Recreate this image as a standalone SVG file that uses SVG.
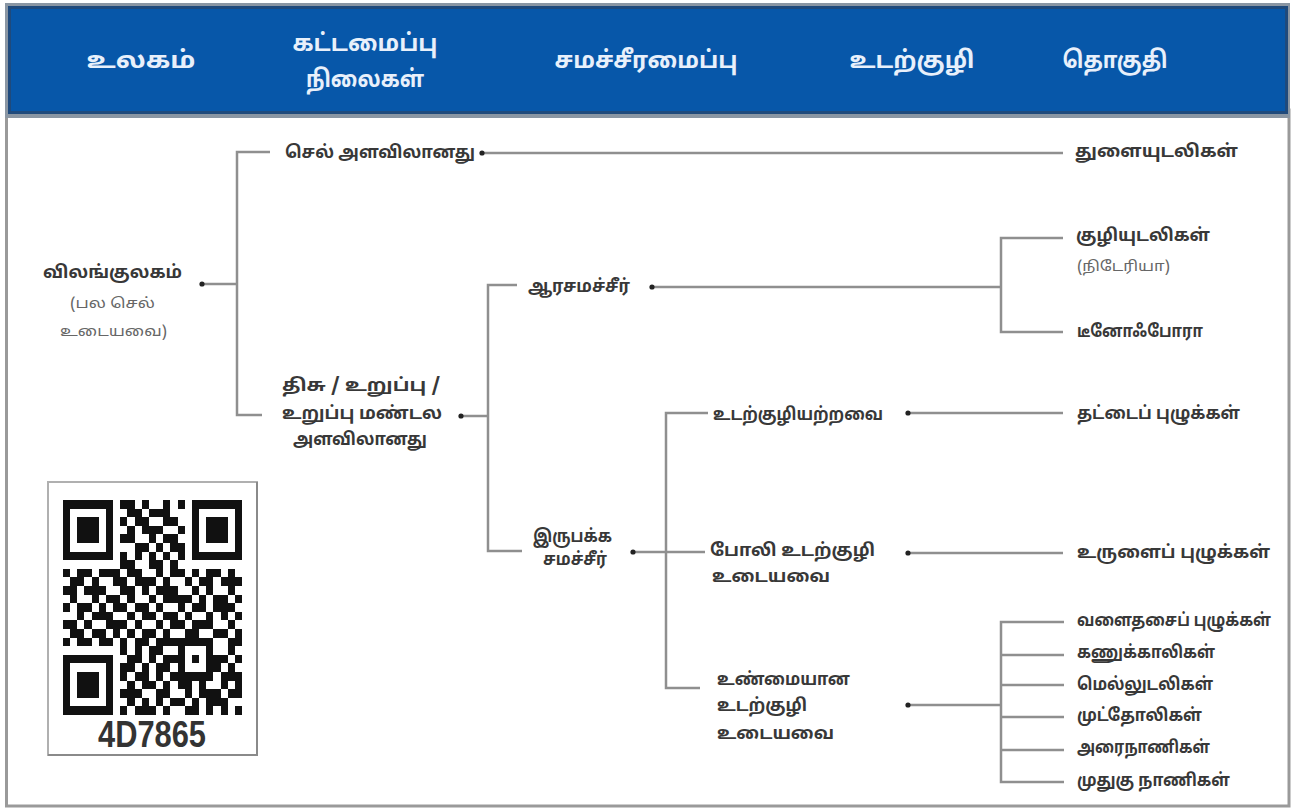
<svg xmlns="http://www.w3.org/2000/svg" width="1305" height="809" viewBox="0 0 1305 809">
<style>
.hd{font-family:"Noto Sans Tamil","Lohit Tamil","Noto Sans","DejaVu Sans",sans-serif;font-weight:bold;font-size:24px;fill:#e8f0fb;text-anchor:middle;dominant-baseline:central}
.t{font-family:"Noto Sans Tamil","Lohit Tamil","Noto Sans","DejaVu Sans",sans-serif;font-weight:bold;font-size:17.5px;fill:#383838;dominant-baseline:central}
.s{font-family:"Noto Sans Tamil","Lohit Tamil","Noto Sans","DejaVu Sans",sans-serif;font-size:14px;fill:#666;dominant-baseline:central}
.ln{fill:none;stroke:#8f8f8f;stroke-width:2.5}
.ar{marker-start:url(#dot)}
</style>
<defs>
<marker id="dot" viewBox="0 0 6 6" refX="3" refY="3" markerWidth="6" markerHeight="6" markerUnits="userSpaceOnUse"><circle cx="3" cy="3" r="2.6" fill="#222"/></marker>
<g id="finder"><rect x="0" y="0" width="7" height="7" fill="#111"/><rect x="1" y="1" width="5" height="5" fill="#fff"/><rect x="2" y="2" width="3" height="3" fill="#111"/></g>
</defs>
<rect x="0" y="0" width="1305" height="809" fill="#fff"/>
<g id="frame">
<rect x="6.5" y="110" width="1282.5" height="696" fill="none" stroke="#9a9a9a" stroke-width="3"/>
<rect x="5" y="3" width="1285" height="115" fill="#8a96a3"/>
<rect x="8" y="6" width="1280" height="108" fill="#1f4a7c"/>
<rect x="11" y="9" width="1274" height="102" fill="#0757a9"/>
</g>
<g id="header">
<text class="hd" x="141" y="62" textLength="109" lengthAdjust="spacingAndGlyphs">உலகம்</text>
<text class="hd" x="365" y="45" textLength="145" lengthAdjust="spacingAndGlyphs">கட்டமைப்பு</text>
<text class="hd" x="365" y="81" textLength="118" lengthAdjust="spacingAndGlyphs">நிலைகள்</text>
<text class="hd" x="646" y="62" textLength="183" lengthAdjust="spacingAndGlyphs">சமச்சீரமைப்பு</text>
<text class="hd" x="912" y="62" textLength="125" lengthAdjust="spacingAndGlyphs">உடற்குழி</text>
<text class="hd" x="1115" y="62" textLength="105" lengthAdjust="spacingAndGlyphs">தொகுதி</text>
</g>
<g id="connectors">
<path class="ln ar" d="M202 284 H237"/>
<path class="ln" d="M270 152 H237 V415 H262"/>
<path class="ln ar" d="M482 153 H1063"/>
<path class="ln ar" d="M461 416 H488"/>
<path class="ln" d="M517 285 H488 V551 H522"/>
<path class="ln ar" d="M652 287 H1001"/>
<path class="ln" d="M1063 238 H1001 V332 H1063"/>
<path class="ln ar" d="M633 552 H705"/>
<path class="ln" d="M708 413 H666 V688 H700"/>
<path class="ln ar" d="M908 413 H1063"/>
<path class="ln ar" d="M908 553 H1063"/>
<path class="ln ar" d="M908 705 H1001"/>
<path class="ln" d="M1064 622 H1001 V782 H1064 M1001 655 H1064 M1001 685 H1064 M1001 717 H1064 M1001 750 H1064"/>
</g>
<g id="n-kingdom">
<text class="t" x="43" y="273" textLength="139" lengthAdjust="spacingAndGlyphs">விலங்குலகம்</text>
<text class="s" x="70" y="304" textLength="85" lengthAdjust="spacingAndGlyphs">(பல செல்</text>
<text class="s" x="60" y="332" textLength="107" lengthAdjust="spacingAndGlyphs">உடையவை)</text>
</g>
<g id="n-cell"><text class="t" x="285" y="153" textLength="190" lengthAdjust="spacingAndGlyphs">செல் அளவிலானது</text></g>
<g id="n-porifera"><text class="t" x="1075" y="152" textLength="163" lengthAdjust="spacingAndGlyphs">துளையுடலிகள்</text></g>
<g id="n-tissue">
<text class="t" x="282" y="386" textLength="158" lengthAdjust="spacingAndGlyphs">திசு / உறுப்பு /</text>
<text class="t" x="282" y="414" textLength="160" lengthAdjust="spacingAndGlyphs">உறுப்பு மண்டல</text>
<text class="t" x="293" y="440" textLength="134" lengthAdjust="spacingAndGlyphs">அளவிலானது</text>
</g>
<g id="n-radial"><text class="t" x="528" y="287" textLength="102" lengthAdjust="spacingAndGlyphs">ஆரசமச்சீர்</text></g>
<g id="n-cnidaria">
<text class="t" x="1076" y="236" textLength="134" lengthAdjust="spacingAndGlyphs">குழியுடலிகள்</text>
<text class="s" x="1077" y="267" textLength="93" lengthAdjust="spacingAndGlyphs">(நிடேரியா)</text>
</g>
<g id="n-ctenophora"><text class="t" x="1077" y="332" textLength="126" lengthAdjust="spacingAndGlyphs">டீனோஃபோரா</text></g>
<g id="n-bilateral">
<text class="t" x="533" y="537" textLength="79" lengthAdjust="spacingAndGlyphs">இருபக்க</text>
<text class="t" x="543" y="560" textLength="64" lengthAdjust="spacingAndGlyphs">சமச்சீர்</text>
</g>
<g id="n-acoel"><text class="t" x="713" y="415" textLength="170" lengthAdjust="spacingAndGlyphs">உடற்குழியற்றவை</text></g>
<g id="n-platy"><text class="t" x="1077" y="414" textLength="163" lengthAdjust="spacingAndGlyphs">தட்டைப் புழுக்கள்</text></g>
<g id="n-pseudo">
<text class="t" x="710" y="551" textLength="165" lengthAdjust="spacingAndGlyphs">போலி உடற்குழி</text>
<text class="t" x="712" y="577" textLength="118" lengthAdjust="spacingAndGlyphs">உடையவை</text>
</g>
<g id="n-aschel"><text class="t" x="1077" y="553" textLength="193" lengthAdjust="spacingAndGlyphs">உருளைப் புழுக்கள்</text></g>
<g id="n-coel">
<text class="t" x="717" y="680" textLength="133" lengthAdjust="spacingAndGlyphs">உண்மையான</text>
<text class="t" x="717" y="706" textLength="90" lengthAdjust="spacingAndGlyphs">உடற்குழி</text>
<text class="t" x="717" y="734" textLength="117" lengthAdjust="spacingAndGlyphs">உடையவை</text>
</g>
<g id="n-annelida"><text class="t" x="1077" y="621" textLength="194" lengthAdjust="spacingAndGlyphs">வளைதசைப் புழுக்கள்</text></g>
<g id="n-arthropoda"><text class="t" x="1077" y="653" textLength="138" lengthAdjust="spacingAndGlyphs">கணுக்காலிகள்</text></g>
<g id="n-mollusca"><text class="t" x="1077" y="685" textLength="136" lengthAdjust="spacingAndGlyphs">மெல்லுடலிகள்</text></g>
<g id="n-echino"><text class="t" x="1077" y="716" textLength="125" lengthAdjust="spacingAndGlyphs">முட்தோலிகள்</text></g>
<g id="n-hemi"><text class="t" x="1077" y="748" textLength="133" lengthAdjust="spacingAndGlyphs">அரைநாணிகள்</text></g>
<g id="n-chordata"><text class="t" x="1077" y="781" textLength="153" lengthAdjust="spacingAndGlyphs">முதுகு நாணிகள்</text></g>
<g id="qr">
<rect x="48" y="482" width="209" height="273" fill="#fff" stroke="#b0b0b0" stroke-width="2"/>
<path d="M48 755 H257 V482" fill="none" stroke="#8a8a8a" stroke-width="2"/>
<g transform="translate(63,500) scale(7.16,8.6)" shape-rendering="crispEdges">
<use href="#finder"/><use href="#finder" x="18"/><use href="#finder" y="18"/>
<path fill="#111" d="M8 0h2v1h-2zM11 0h1v1h-1zM14 0h1v1h-1zM16 0h1v1h-1zM9 1h2v1h-2zM12 1h3v1h-3zM8 2h1v1h-1zM10 2h2v1h-2zM14 2h2v1h-2zM9 3h1v1h-1zM11 3h3v1h-3zM16 3h1v1h-1zM8 4h2v1h-2zM12 4h1v1h-1zM14 4h2v1h-2zM10 5h2v1h-2zM13 5h1v1h-1zM15 5h2v1h-2zM8 6h1v1h-1zM10 6h1v1h-1zM12 6h1v1h-1zM14 6h1v1h-1zM16 6h1v1h-1zM8 7h2v1h-2zM12 7h2v1h-2zM15 7h1v1h-1zM0 8h1v1h-1zM2 8h2v1h-2zM5 8h3v1h-3zM9 8h2v1h-2zM13 8h1v1h-1zM15 8h2v1h-2zM18 8h1v1h-1zM20 8h2v1h-2zM23 8h1v1h-1zM1 9h2v1h-2zM4 9h1v1h-1zM7 9h2v1h-2zM10 9h3v1h-3zM14 9h1v1h-1zM17 9h1v1h-1zM19 9h2v1h-2zM22 9h3v1h-3zM0 10h2v1h-2zM3 10h3v1h-3zM8 10h2v1h-2zM11 10h1v1h-1zM13 10h3v1h-3zM18 10h1v1h-1zM20 10h1v1h-1zM23 10h1v1h-1zM1 11h1v1h-1zM4 11h1v1h-1zM6 11h2v1h-2zM9 11h1v1h-1zM12 11h1v1h-1zM14 11h4v1h-4zM19 11h1v1h-1zM21 11h2v1h-2zM24 11h1v1h-1zM0 12h1v1h-1zM2 12h2v1h-2zM5 12h1v1h-1zM7 12h2v1h-2zM10 12h2v1h-2zM13 12h1v1h-1zM16 12h1v1h-1zM18 12h2v1h-2zM21 12h3v1h-3zM2 13h1v1h-1zM4 13h3v1h-3zM9 13h1v1h-1zM11 13h2v1h-2zM14 13h2v1h-2zM17 13h1v1h-1zM20 13h1v1h-1zM22 13h1v1h-1zM24 13h1v1h-1zM0 14h2v1h-2zM3 14h1v1h-1zM6 14h3v1h-3zM10 14h1v1h-1zM13 14h1v1h-1zM15 14h2v1h-2zM18 14h3v1h-3zM23 14h1v1h-1zM1 15h2v1h-2zM4 15h2v1h-2zM7 15h1v1h-1zM9 15h1v1h-1zM11 15h2v1h-2zM14 15h1v1h-1zM17 15h2v1h-2zM21 15h2v1h-2zM24 15h1v1h-1zM0 16h1v1h-1zM2 16h2v1h-2zM5 16h2v1h-2zM8 16h1v1h-1zM10 16h2v1h-2zM13 16h3v1h-3zM23 16h2v1h-2zM8 17h1v1h-1zM10 17h1v1h-1zM12 17h2v1h-2zM23 17h1v1h-1zM9 18h2v1h-2zM12 18h1v1h-1zM14 18h2v1h-2zM21 18h2v1h-2zM24 18h1v1h-1zM8 19h2v1h-2zM11 19h1v1h-1zM13 19h2v1h-2zM21 19h1v1h-1zM23 19h1v1h-1zM8 20h1v1h-1zM10 20h2v1h-2zM13 20h1v1h-1zM15 20h1v1h-1zM22 20h3v1h-3zM9 21h1v1h-1zM11 21h2v1h-2zM14 21h1v1h-1zM16 21h2v1h-2zM19 21h1v1h-1zM22 21h1v1h-1zM24 21h1v1h-1zM8 22h3v1h-3zM13 22h2v1h-2zM17 22h1v1h-1zM19 22h3v1h-3zM23 22h2v1h-2zM9 23h1v1h-1zM11 23h1v1h-1zM13 23h1v1h-1zM15 23h2v1h-2zM18 23h1v1h-1zM20 23h3v1h-3zM8 24h1v1h-1zM10 24h3v1h-3zM14 24h1v1h-1zM17 24h2v1h-2zM20 24h1v1h-1zM22 24h1v1h-1zM24 24h1v1h-1z"/>
<rect x="16" y="16" width="5" height="5" fill="#111"/><rect x="17" y="17" width="3" height="3" fill="#fff"/><rect x="18" y="18" width="1" height="1" fill="#111"/>
</g>
<text x="152" y="747" text-anchor="middle" textLength="108" lengthAdjust="spacingAndGlyphs" font-family="'Liberation Sans Narrow','Liberation Sans',sans-serif" font-weight="bold" font-size="36" fill="#333">4D7865</text>
</g>
</svg>
